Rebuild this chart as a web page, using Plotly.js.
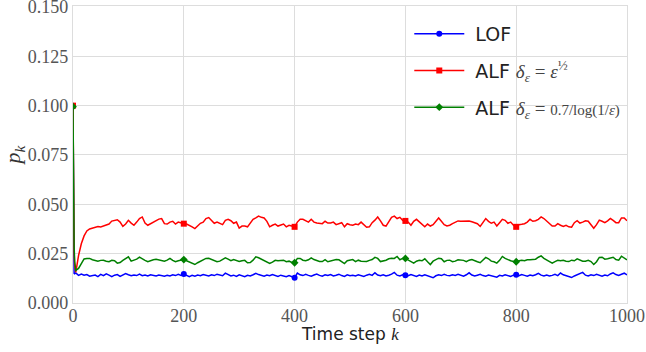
<!DOCTYPE html>
<html>
<head>
<meta charset="utf-8">
<script src="https://cdn.plot.ly/plotly-3.0.1.min.js"></script>
<style>html,body{margin:0;padding:0;background:#fff;}#chart{width:646px;height:352px;}</style>
</head>
<body>
<div id="chart"></div>
<script>
// Time steps: 0..4 individually, then every 5 steps up to 1000
const K = [0, 1, 2, 3, 4];
for (let k = 5; k <= 1000; k += 5) K.push(k);

const LOF = [
  0.100, 0.0160, 0.0150, 0.0148, 0.0150,
  0.0152, 0.0140, 0.0147, 0.0141, 0.0144, 0.0136, 0.0139, 0.0142, 0.0134, 0.0145, 0.0139, 0.0148, 0.0141, 0.0134, 0.0141, 0.0144, 0.0135, 0.0142, 0.0149, 0.0143, 0.0138, 0.0142, 0.0139, 0.0146, 0.0138, 0.0142, 0.0137, 0.0143, 0.0140, 0.0137, 0.0142, 0.0139, 0.0136,
  0.0141, 0.0137, 0.0143, 0.0139, 0.0145, 0.0140, 0.0147, 0.0138, 0.0133, 0.0140, 0.0136, 0.0142, 0.0138, 0.0144, 0.0140, 0.0137, 0.0143, 0.0139, 0.0146, 0.0141, 0.0138, 0.0151, 0.0143, 0.0137, 0.0141, 0.0135, 0.0143, 0.0139, 0.0133, 0.0140, 0.0137, 0.0143, 0.0150, 0.0144,
  0.0140, 0.0136, 0.0142, 0.0138, 0.0144, 0.0139, 0.0135, 0.0141, 0.0137, 0.0133, 0.0139, 0.0134, 0.0128, 0.0152, 0.0143, 0.0139, 0.0145, 0.0140, 0.0136, 0.0142, 0.0147, 0.0140, 0.0136, 0.0143, 0.0139, 0.0144, 0.0137, 0.0141, 0.0146, 0.0139, 0.0135, 0.0143, 0.0138, 0.0141,
  0.0137, 0.0143, 0.0139, 0.0135, 0.0141, 0.0146, 0.0140, 0.0153, 0.0142, 0.0138, 0.0143, 0.0137, 0.0141, 0.0146, 0.0155, 0.0141, 0.0137, 0.0143, 0.0140, 0.0138, 0.0144, 0.0139, 0.0135, 0.0142, 0.0137, 0.0143, 0.0139, 0.0134, 0.0128, 0.0138, 0.0143, 0.0139, 0.0145, 0.0140,
  0.0138, 0.0143, 0.0140, 0.0145, 0.0139, 0.0136, 0.0143, 0.0153, 0.0142, 0.0137, 0.0141, 0.0145, 0.0139, 0.0136, 0.0142, 0.0138, 0.0134, 0.0131, 0.0140, 0.0137, 0.0143, 0.0139, 0.0135, 0.0141, 0.0143, 0.0138, 0.0144, 0.0140, 0.0136, 0.0142, 0.0138, 0.0143, 0.0150, 0.0141, 0.0137,
  0.0142, 0.0137, 0.0140, 0.0145, 0.0139, 0.0152, 0.0143, 0.0138, 0.0134, 0.0129, 0.0137, 0.0142, 0.0147, 0.0155, 0.0141, 0.0137, 0.0143, 0.0139, 0.0145, 0.0140, 0.0136, 0.0142, 0.0138, 0.0147, 0.0153, 0.0144, 0.0140, 0.0146, 0.0151, 0.0142
];

const ALF_SQRT = [
  0.100, 0.045, 0.026, 0.019, 0.016,
  0.0155, 0.024, 0.030, 0.034, 0.0365, 0.0375, 0.038, 0.0385, 0.0388, 0.0385, 0.039, 0.0397, 0.040, 0.0415, 0.042, 0.0422, 0.041, 0.0388, 0.040, 0.0419, 0.0405, 0.0394, 0.041, 0.0428, 0.0436, 0.0405, 0.0394, 0.0402, 0.041, 0.0419, 0.0425, 0.0428, 0.0402,
  0.040, 0.041, 0.0414, 0.040, 0.041, 0.0405, 0.0402, 0.040, 0.0394, 0.0386, 0.0377, 0.0392, 0.0404, 0.041, 0.0428, 0.0433, 0.0419, 0.0404, 0.041, 0.0404, 0.0397, 0.0419, 0.0424, 0.0417, 0.0404, 0.041, 0.038, 0.039, 0.039, 0.0386, 0.0405, 0.0424, 0.0431, 0.044,
  0.0434, 0.0431, 0.0414, 0.0386, 0.0394, 0.040, 0.039, 0.0394, 0.040, 0.0386, 0.0394, 0.039, 0.0386, 0.041, 0.0424, 0.0424, 0.0417, 0.041, 0.0424, 0.041, 0.0405, 0.0402, 0.0402, 0.0414, 0.0405, 0.0405, 0.041, 0.0397, 0.0402, 0.0407, 0.0386, 0.0402, 0.0397, 0.0394,
  0.040, 0.0397, 0.041, 0.0397, 0.0384, 0.0386, 0.0407, 0.042, 0.0436, 0.0416, 0.0394, 0.039, 0.041, 0.0434, 0.044, 0.0428, 0.0434, 0.0419, 0.0416, 0.041, 0.0394, 0.0414, 0.0424, 0.041, 0.0397, 0.0386, 0.040, 0.039, 0.0397, 0.0414, 0.0431, 0.0414, 0.0397, 0.039,
  0.0394, 0.0402, 0.041, 0.0416, 0.0414, 0.0414, 0.0417, 0.0416, 0.0412, 0.0407, 0.0402, 0.0388, 0.0407, 0.0428, 0.0414, 0.0404, 0.041, 0.039, 0.0407, 0.0424, 0.0419, 0.0404, 0.041, 0.0394, 0.0386, 0.0397, 0.0399, 0.0402, 0.041, 0.0424, 0.0414, 0.0417, 0.0424, 0.0436, 0.0428,
  0.0414, 0.0402, 0.039, 0.039, 0.0402, 0.0394, 0.0388, 0.0394, 0.0386, 0.0384, 0.0407, 0.0417, 0.0405, 0.041, 0.0417, 0.0414, 0.0397, 0.0379, 0.0397, 0.042, 0.0414, 0.0407, 0.0416, 0.0428, 0.0419, 0.0407, 0.0407, 0.0431, 0.0431, 0.0417
];

const ALF_LOG = [
  0.0995, 0.031, 0.029, 0.021, 0.017,
  0.0165, 0.0175, 0.020, 0.0223, 0.0226, 0.0226, 0.0219, 0.0216, 0.0212, 0.0216, 0.0217, 0.0212, 0.0209, 0.0216, 0.0214, 0.0202, 0.0205, 0.0216, 0.0226, 0.0234, 0.0212, 0.0217, 0.0222, 0.0232, 0.0226, 0.0216, 0.0209, 0.0216, 0.0219, 0.0222, 0.0219, 0.0217, 0.0212,
  0.0217, 0.0226, 0.0216, 0.0209, 0.0214, 0.0219, 0.0220, 0.0214, 0.0207, 0.0202, 0.0195, 0.0204, 0.0212, 0.0220, 0.0226, 0.0227, 0.0220, 0.0214, 0.0209, 0.0212, 0.0219, 0.0229, 0.0222, 0.0214, 0.0220, 0.0214, 0.0210, 0.0214, 0.0216, 0.0204, 0.0205, 0.0217, 0.0234, 0.0229,
  0.0222, 0.0217, 0.0210, 0.0200, 0.0207, 0.0216, 0.0214, 0.0216, 0.0217, 0.0209, 0.0212, 0.0205, 0.0204, 0.0226, 0.0226, 0.0217, 0.0214, 0.0219, 0.0229, 0.0220, 0.0214, 0.0210, 0.0210, 0.0220, 0.0209, 0.0212, 0.0216, 0.0220, 0.0219, 0.0210, 0.0200, 0.0214, 0.0217, 0.0220,
  0.0210, 0.0217, 0.0212, 0.0210, 0.0210, 0.0216, 0.0220, 0.0231, 0.0226, 0.0210, 0.0212, 0.0217, 0.0224, 0.0227, 0.0226, 0.0236, 0.0219, 0.0226, 0.0226, 0.0219, 0.0209, 0.0202, 0.0212, 0.0216, 0.0214, 0.0224, 0.0209, 0.0195, 0.0212, 0.0220, 0.0227, 0.0224, 0.0209, 0.0216,
  0.0217, 0.0209, 0.0212, 0.0219, 0.0219, 0.0216, 0.0209, 0.0217, 0.0220, 0.0216, 0.0209, 0.0204, 0.0217, 0.0231, 0.0224, 0.0212, 0.0209, 0.0202, 0.0216, 0.0236, 0.0226, 0.0219, 0.0214, 0.0210, 0.0209, 0.0214, 0.0216, 0.0214, 0.0219, 0.0219, 0.0219, 0.0222, 0.0232, 0.0239, 0.0226,
  0.0219, 0.0212, 0.0202, 0.0210, 0.0216, 0.0214, 0.0216, 0.0212, 0.0210, 0.0217, 0.0214, 0.0224, 0.0219, 0.0212, 0.0212, 0.0216, 0.0210, 0.0195, 0.0209, 0.0231, 0.0232, 0.0222, 0.0224, 0.0227, 0.0232, 0.0220, 0.0217, 0.0237, 0.0229, 0.0219
];

const X_TICKS = [0, 200, 400, 600, 800, 1000];
const Y_TICKS = [0, 0.025, 0.05, 0.075, 0.1, 0.125, 0.15];
const MARK_EVERY = 200;

const SERIF = 'Liberation Serif, DejaVu Serif, serif';
const SANS = 'DejaVu Sans, Liberation Sans, sans-serif';
const GAP = '\u00a0';
const NAMES = [
  GAP + 'LOF',
  GAP + 'ALF <span style="font-family:Liberation Serif;color:#444"><i>δ</i><sub><i>ε</i></sub> = <i>ε</i><sup>½</sup></span>',
  GAP + 'ALF <span style="font-family:Liberation Serif;color:#444"><i>δ</i><sub><i>ε</i></sub> = <span style="font-size:15px">0.7/log(1/<i>ε</i>)</span></span>'
];
const X_TITLE = 'Time step <span style="font-family:Liberation Serif"><i>k</i></span>';
const COLORS = ['#0000ff', '#ff0000', '#008000'];
const SYMBOLS = ['circle', 'square', 'diamond'];
const SIZES = [6, 6, 6];
const SERIES = [LOF, ALF_SQRT, ALF_LOG];

// markers every 200 steps, separated by nulls so no line connects them
function markerPoints(ys) {
  const mx = [], my = [];
  for (let i = 0; i < K.length; i++) {
    if (K[i] % MARK_EVERY === 0 && K[i] < 1000) {
      if (mx.length) { mx.push(null); my.push(null); }
      mx.push(K[i]); my.push(ys[i]);
    }
  }
  return {mx, my};
}

const traces = [];
SERIES.forEach((ys, i) => {
  traces.push({
    x: K, y: ys, type: 'scatter', mode: 'lines',
    line: {color: COLORS[i], width: 1.5}, showlegend: false,
    legendgroup: 'g' + i, hoverinfo: 'skip'
  });
});
SERIES.forEach((ys, i) => {
  const {mx, my} = markerPoints(ys);
  traces.push({
    x: mx, y: my, type: 'scatter', mode: 'lines+markers', name: NAMES[i],
    line: {color: COLORS[i], width: 1.5},
    marker: {color: COLORS[i], symbol: SYMBOLS[i], size: SIZES[i]},
    legendgroup: 'g' + i, connectgaps: false
  });
});

const axisCommon = {
  showgrid: true, gridcolor: '#dddddd', gridwidth: 1,
  showline: true, mirror: true, linecolor: '#dddddd', linewidth: 1.2,
  zeroline: false, ticks: '', ticklabeloverflow: 'allow',
  tickfont: {family: SERIF, size: 18, color: '#555555'}
};

const layout = {
  width: 646, height: 352,
  margin: {l: 73, r: 19, t: 6, b: 49},
  paper_bgcolor: '#ffffff', plot_bgcolor: '#ffffff',
  xaxis: Object.assign({}, axisCommon, {
    range: [0, 1000], tickmode: 'array', tickvals: X_TICKS,
    ticktext: X_TICKS.map(String),
    ticklabelstandoff: -4
  }),
  yaxis: Object.assign({}, axisCommon, {
    range: [0, 0.1505], tickmode: 'array', tickvals: Y_TICKS,
    ticktext: Y_TICKS.map(v => v.toFixed(3)),
    title: {text: '<i>p</i><sub><i>k</i></sub>', font: {family: SERIF, size: 22, color: '#333333'}, standoff: 2}
  }),
  annotations: [{
    text: X_TITLE, xref: 'paper', yref: 'paper', x: 0.5, y: 0,
    xanchor: 'center', yanchor: 'middle', yshift: -31, showarrow: false,
    font: {family: SANS, size: 17, color: '#222222'}
  }],
  legend: {
    x: 0.607, y: 0.97, xanchor: 'left', yanchor: 'top',
    bgcolor: 'rgba(0,0,0,0)', borderwidth: 0,
    font: {family: SANS, size: 19, color: '#222222'},
    traceorder: 'grouped', tracegroupgap: 9, itemwidth: 50
  }
};

Plotly.newPlot('chart', traces, layout, {displayModeBar: false, staticPlot: true});
</script>
</body>
</html>
